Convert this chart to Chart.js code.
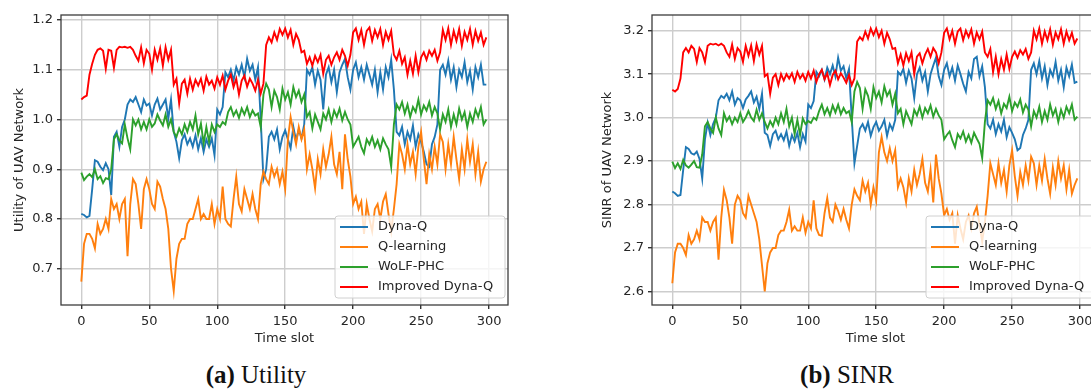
<!DOCTYPE html>
<html lang="en">
<head>
  <meta charset="UTF-8" />
  <title>Utility and SINR of UAV Network</title>
  <script src="https://cdn.jsdelivr.net/npm/chart.js"></script>
  <style>
    body { margin: 0; background: #fff; }
    #page { position: relative; width: 1091px; height: 390px; overflow: hidden; background: #fff; }
    canvas { position: absolute; top: 0; }
    #utility { left: 0; }
    #sinr { left: 590px; }
    .cap {
      position: absolute; top: 363px; line-height: 24px;
      font-family: "Liberation Serif", serif; font-size: 25px; color: #111;
      white-space: nowrap; transform: translateX(-50%);
    }
  </style>
</head>
<body>
<div id="page">
  <canvas id="utility" width="520" height="346"></canvas>
  <canvas id="sinr" width="521" height="346"></canvas>
  <div class="cap" style="left:256px"><b>(a)</b> Utility</div>
  <div class="cap" style="left:847px"><b>(b)</b> SINR</div>
</div>

<script>
  // one reading every second time slot
  const STEP = 2;
  const seriesNames = ["Dyna-Q", "Q-learning", "WoLF-PHC", "Improved Dyna-Q"];
  const seriesColors = ["#1f77b4", "#ff7f0e", "#2ca02c", "#ff0000"];
  const xTicks = [0, 50, 100, 150, 200, 250, 300];
  const utilityTicks = [0.7, 0.8, 0.9, 1.0, 1.1, 1.2];
  const sinrTicks = [2.6, 2.7, 2.8, 2.9, 3.0, 3.1, 3.2];

  // (a) Utility
  const utilDynaQ = [
    0.810, 0.808, 0.803, 0.806, 0.860, 0.918, 0.915, 0.905, 0.898, 0.912,
    0.900, 0.848, 0.965, 0.975, 0.945, 0.985, 1.000, 1.030, 1.040, 1.035,
    1.045, 1.030, 1.015, 1.040, 1.028, 1.032, 1.008, 1.030, 1.042, 1.020,
    1.030, 1.040, 1.002, 1.040, 0.975, 0.955, 0.922, 0.958, 0.970, 0.950,
    0.962, 0.945, 0.968, 0.940, 0.962, 0.935, 0.960, 0.945, 0.962, 0.928,
    1.020, 1.010, 1.025, 1.095, 1.085, 1.100, 1.078, 1.105, 1.090, 1.110,
    1.085, 1.122, 1.098, 1.110, 1.080, 1.105, 1.000, 0.880, 0.900, 0.965,
    0.975, 0.960, 0.980, 0.940, 0.965, 0.978, 0.960, 0.942, 0.985, 0.958,
    0.980, 0.962, 0.990, 1.100, 1.090, 1.105, 1.070, 1.098, 1.080, 1.020,
    1.090, 1.105, 1.075, 1.100, 1.055, 1.095, 1.110, 1.122, 1.085, 1.060,
    1.100, 1.115, 1.085, 1.105, 1.080, 1.110, 1.090, 1.070, 1.100, 1.055,
    1.095, 1.060, 1.105, 1.085, 1.120, 1.060, 0.975, 0.968, 0.985, 0.950,
    0.975, 0.960, 0.988, 0.945, 0.970, 0.955, 0.935, 0.910, 0.905, 0.950,
    0.965, 0.990, 1.100, 1.110, 1.090, 1.118, 1.080, 1.105, 1.065, 1.100,
    1.085, 1.115, 1.075, 1.098, 1.060, 1.105, 1.085, 1.110, 1.070, 1.070
  ];
  const utilQLearning = [
    0.674, 0.750, 0.770, 0.770, 0.760, 0.741, 0.790, 0.770, 0.780, 0.800,
    0.780, 0.840, 0.820, 0.830, 0.800, 0.830, 0.840, 0.725, 0.830, 0.880,
    0.870, 0.830, 0.780, 0.860, 0.880, 0.860, 0.830, 0.820, 0.875, 0.865,
    0.840, 0.820, 0.780, 0.700, 0.655, 0.720, 0.750, 0.760, 0.760, 0.790,
    0.800, 0.800, 0.820, 0.840, 0.800, 0.810, 0.800, 0.800, 0.830, 0.790,
    0.820, 0.800, 0.865, 0.800, 0.790, 0.785, 0.840, 0.885, 0.830, 0.815,
    0.860, 0.840, 0.820, 0.850, 0.820, 0.800, 0.870, 0.895, 0.880, 0.870,
    0.905, 0.885, 0.900, 0.870, 0.895, 0.860, 0.960, 1.005, 0.975, 0.950,
    0.985, 0.960, 0.980, 0.900, 0.930, 0.900, 0.862, 0.920, 0.890, 0.940,
    0.905, 0.930, 0.965, 0.910, 0.890, 0.935, 0.860, 0.970, 0.920, 0.885,
    0.830, 0.845, 0.820, 0.835, 0.770, 0.830, 0.800, 0.775, 0.820, 0.830,
    0.800, 0.835, 0.850, 0.810, 0.775, 0.820, 0.870, 0.950, 0.930, 0.900,
    0.950, 0.910, 0.935, 0.890, 0.945, 0.975, 0.920, 0.870, 0.930, 0.900,
    0.945, 0.910, 0.970, 0.955, 0.900, 0.950, 0.910, 0.965, 0.920, 0.880,
    0.940, 0.900, 0.960, 0.915, 0.950, 0.890, 0.935, 0.875, 0.900, 0.915
  ];
  const utilWolf = [
    0.893, 0.878, 0.885, 0.890, 0.884, 0.900, 0.880, 0.886, 0.872, 0.882,
    0.880, 0.900, 0.960, 0.970, 0.958, 0.952, 0.990, 0.962, 0.940, 1.000,
    0.988, 1.000, 0.980, 0.995, 0.980, 1.000, 0.985, 0.992, 1.010, 0.998,
    0.988, 1.010, 0.985, 1.000, 0.975, 0.965, 0.982, 0.970, 0.990, 0.975,
    0.995, 0.980, 1.008, 0.970, 0.992, 0.952, 0.985, 0.955, 0.990, 0.975,
    0.990, 0.985, 0.995, 0.990, 1.015, 1.025, 1.008, 1.018, 1.003, 1.022,
    1.010, 1.025, 1.005, 1.018, 1.008, 1.012, 0.985, 1.050, 1.072, 1.060,
    1.025, 1.058, 1.045, 1.020, 1.062, 1.040, 1.055, 1.030, 1.065, 1.045,
    1.058, 1.035, 1.050, 1.005, 1.015, 0.982, 1.010, 0.995, 0.980, 1.012,
    1.000, 1.020, 0.995, 1.018, 1.005, 1.022, 0.998, 1.015, 1.000, 0.990,
    0.945, 0.955, 0.965, 0.945, 0.932, 0.960, 0.950, 0.965, 0.945, 0.958,
    0.940, 0.962, 0.950, 0.940, 0.905, 0.990, 1.030, 1.020, 1.035, 1.012,
    1.030, 1.005, 1.025, 1.015, 1.040, 1.010, 1.028, 1.018, 1.035, 1.008,
    1.025, 1.012, 0.980, 1.010, 0.995, 1.020, 0.985, 1.010, 0.990, 1.022,
    1.000, 1.015, 0.985, 1.012, 0.995, 1.020, 1.005, 1.025, 0.990, 1.000
  ];
  const utilImproved = [
    1.040, 1.045, 1.048, 1.090, 1.112, 1.130, 1.140, 1.143, 1.138, 1.102,
    1.140, 1.138, 1.104, 1.140, 1.146, 1.145, 1.146, 1.144, 1.146, 1.140,
    1.128, 1.118, 1.145, 1.113, 1.140, 1.132, 1.100, 1.140, 1.120, 1.143,
    1.108, 1.145, 1.120, 1.140, 1.070, 1.082, 1.032, 1.072, 1.080, 1.052,
    1.082, 1.060, 1.080, 1.068, 1.082, 1.058, 1.086, 1.070, 1.078, 1.062,
    1.085, 1.070, 1.088, 1.060, 1.078, 1.090, 1.065, 1.082, 1.050, 1.078,
    1.088, 1.066, 1.082, 1.072, 1.058, 1.080, 1.052, 1.072, 1.150, 1.165,
    1.155, 1.175, 1.160, 1.182, 1.170, 1.183, 1.165, 1.180, 1.150, 1.172,
    1.160, 1.135, 1.138, 1.112, 1.125, 1.108, 1.128, 1.115, 1.130, 1.092,
    1.120, 1.128, 1.110, 1.125, 1.135, 1.120, 1.140, 1.128, 1.108, 1.130,
    1.175, 1.183, 1.160, 1.180, 1.150, 1.178, 1.185, 1.158, 1.180, 1.165,
    1.182, 1.150, 1.176, 1.160, 1.178, 1.130, 1.120, 1.138, 1.112, 1.125,
    1.090, 1.118, 1.092, 1.128, 1.095, 1.125, 1.135, 1.120, 1.138, 1.128,
    1.140, 1.118, 1.135, 1.180, 1.160, 1.183, 1.150, 1.178, 1.158, 1.182,
    1.148, 1.176, 1.160, 1.182, 1.150, 1.178, 1.158, 1.175, 1.150, 1.165
  ];

  // (b) SINR
  const sinrDynaQ = [
    2.830, 2.826, 2.820, 2.822, 2.880, 2.932, 2.928, 2.918, 2.915, 2.922,
    2.905, 2.860, 2.950, 2.988, 2.960, 2.985, 3.000, 3.040, 3.050, 3.045,
    3.055, 3.040, 3.060, 3.030, 3.045, 3.040, 3.022, 3.042, 3.050, 3.060,
    3.035, 3.048, 3.020, 3.055, 2.965, 2.960, 2.935, 2.962, 2.970, 2.950,
    2.962, 2.948, 2.968, 2.935, 2.960, 2.945, 2.965, 2.932, 2.962, 2.945,
    3.030, 3.022, 3.038, 3.105, 3.095, 3.110, 3.088, 3.115, 3.100, 3.120,
    3.095, 3.138, 3.108, 3.118, 3.090, 3.112, 3.000, 2.895, 2.935, 2.975,
    2.985, 2.970, 2.990, 2.958, 2.978, 2.990, 2.970, 2.980, 2.995, 2.958,
    2.985, 2.972, 2.995, 3.105, 3.098, 3.112, 3.080, 3.108, 3.090, 3.045,
    3.100, 3.115, 3.085, 3.105, 3.060, 3.100, 3.120, 3.138, 3.095, 3.075,
    3.110, 3.125, 3.095, 3.115, 3.085, 3.120, 3.100, 3.078, 3.060, 3.105,
    3.090, 3.135, 3.140, 3.095, 3.118, 3.070, 2.985, 2.975, 2.995, 2.962,
    2.985, 2.968, 2.995, 2.955, 2.978, 2.965, 2.950, 2.925, 2.930, 2.960,
    2.975, 2.995, 3.110, 3.125, 3.100, 3.130, 3.090, 3.118, 3.075, 3.110,
    3.095, 3.128, 3.085, 3.110, 3.070, 3.115, 3.095, 3.122, 3.080, 3.083
  ];
  const sinrQLearning = [
    2.619, 2.690, 2.710, 2.710, 2.700, 2.684, 2.730, 2.710, 2.720, 2.740,
    2.720, 2.770, 2.760, 2.760, 2.740, 2.760, 2.770, 2.673, 2.770, 2.834,
    2.810, 2.770, 2.710, 2.800, 2.820, 2.810, 2.780, 2.770, 2.820, 2.800,
    2.780, 2.760, 2.720, 2.660, 2.600, 2.665, 2.690, 2.700, 2.700, 2.730,
    2.740, 2.740, 2.760, 2.788, 2.740, 2.750, 2.740, 2.740, 2.770, 2.735,
    2.760, 2.745, 2.810, 2.745, 2.730, 2.728, 2.780, 2.815, 2.770, 2.760,
    2.800, 2.785, 2.765, 2.790, 2.765, 2.745, 2.800, 2.835, 2.820, 2.810,
    2.855, 2.830, 2.850, 2.800, 2.840, 2.810, 2.920, 2.956, 2.920, 2.900,
    2.930, 2.900, 2.925, 2.840, 2.860, 2.840, 2.805, 2.860, 2.830, 2.880,
    2.845, 2.870, 2.905, 2.850, 2.830, 2.880, 2.805, 2.915, 2.860, 2.825,
    2.775, 2.790, 2.765, 2.780, 2.710, 2.775, 2.745, 2.720, 2.760, 2.775,
    2.745, 2.780, 2.795, 2.755, 2.715, 2.760, 2.820, 2.895, 2.870, 2.845,
    2.895, 2.850, 2.880, 2.830, 2.890, 2.925, 2.865, 2.820, 2.875, 2.845,
    2.890, 2.855, 2.910, 2.895, 2.845, 2.890, 2.855, 2.905, 2.860, 2.825,
    2.885, 2.845, 2.900, 2.860, 2.890, 2.835, 2.880, 2.825, 2.845, 2.860
  ];
  const sinrWolf = [
    2.899, 2.884, 2.895, 2.882, 2.903, 2.890, 2.885, 2.892, 2.900, 2.886,
    2.885, 2.915, 2.980, 2.990, 2.975, 2.965, 3.000, 2.975, 2.960, 3.010,
    2.992, 3.002, 2.985, 3.000, 2.990, 3.010, 2.990, 3.000, 3.015, 3.000,
    2.992, 3.018, 2.995, 3.010, 2.990, 2.975, 2.992, 2.980, 3.000, 2.985,
    3.010, 2.990, 3.020, 2.980, 3.000, 2.962, 2.995, 2.960, 2.998, 2.985,
    2.992, 2.988, 3.000, 2.995, 3.015, 3.030, 3.008, 3.022, 3.005, 3.028,
    3.012, 3.030, 3.008, 3.022, 3.010, 3.015, 2.990, 3.060, 3.082, 3.068,
    3.020, 3.065, 3.050, 3.020, 3.070, 3.045, 3.060, 3.035, 3.072, 3.050,
    3.062, 3.030, 3.055, 3.010, 3.020, 2.985, 3.015, 3.000, 2.985, 3.018,
    3.005, 3.025, 3.000, 3.022, 3.010, 3.028, 3.002, 3.020, 3.005, 2.995,
    2.950, 2.960, 2.968, 2.948, 2.932, 2.962, 2.952, 2.968, 2.945, 2.960,
    2.942, 2.965, 2.952, 2.940, 2.907, 2.990, 3.040, 3.030, 3.045, 3.020,
    3.038, 3.010, 3.032, 3.022, 3.048, 3.015, 3.035, 3.025, 3.042, 3.012,
    3.030, 3.018, 2.980, 3.015, 3.000, 3.025, 2.990, 3.015, 2.995, 3.030,
    3.005, 3.020, 2.990, 3.018, 3.000, 3.025, 3.010, 3.030, 2.995, 3.002
  ];
  const sinrImproved = [
    3.064, 3.060, 3.066, 3.090, 3.150, 3.160, 3.150, 3.165, 3.158, 3.128,
    3.160, 3.150, 3.128, 3.165, 3.170, 3.168, 3.170, 3.166, 3.170, 3.165,
    3.150, 3.140, 3.168, 3.135, 3.160, 3.152, 3.128, 3.165, 3.142, 3.166,
    3.130, 3.168, 3.145, 3.165, 3.095, 3.100, 3.055, 3.092, 3.100, 3.075,
    3.100, 3.085, 3.100, 3.090, 3.102, 3.082, 3.105, 3.090, 3.100, 3.085,
    3.105, 3.090, 3.108, 3.082, 3.100, 3.110, 3.088, 3.102, 3.075, 3.098,
    3.108, 3.088, 3.102, 3.092, 3.080, 3.098, 3.075, 3.090, 3.175, 3.185,
    3.178, 3.198, 3.182, 3.205, 3.190, 3.205, 3.185, 3.200, 3.170, 3.195,
    3.180, 3.158, 3.160, 3.125, 3.145, 3.120, 3.148, 3.130, 3.150, 3.100,
    3.140, 3.148, 3.125, 3.145, 3.158, 3.140, 3.160, 3.150, 3.125, 3.150,
    3.195, 3.205, 3.180, 3.200, 3.170, 3.198, 3.205, 3.178, 3.200, 3.185,
    3.203, 3.170, 3.196, 3.180, 3.198, 3.150, 3.140, 3.158, 3.105, 3.140,
    3.100, 3.135, 3.110, 3.145, 3.112, 3.140, 3.152, 3.138, 3.155, 3.145,
    3.158, 3.135, 3.150, 3.200, 3.180, 3.205, 3.170, 3.198, 3.178, 3.203,
    3.168, 3.196, 3.180, 3.203, 3.170, 3.198, 3.178, 3.195, 3.170, 3.182
  ];

  Chart.defaults.font.family = "'DejaVu Sans', sans-serif";
  Chart.defaults.font.size = 13;
  Chart.defaults.color = "#262626";

  // axes box on all four sides, like matplotlib spines
  const frame = {
    id: "frame",
    afterDatasetsDraw(chart) {
      const { ctx, chartArea: a } = chart;
      ctx.save();
      ctx.strokeStyle = "#3c3c3c";
      ctx.lineWidth = 1.3;
      ctx.strokeRect(a.left, a.top, a.right - a.left, a.bottom - a.top);
      ctx.restore();
    }
  };

  // legend box in the lower right corner of the plot
  const boxLegend = {
    id: "boxLegend",
    afterDraw(chart) {
      const { ctx, chartArea: a } = chart;
      const w = 170, h = 82;
      const x0 = a.right - 3 - w, y0 = a.bottom - 7 - h;
      ctx.save();
      ctx.beginPath();
      ctx.roundRect(x0, y0, w, h, 3);
      ctx.fillStyle = "rgba(255,255,255,0.8)";
      ctx.fill();
      ctx.strokeStyle = "#d0d0d0";
      ctx.lineWidth = 1;
      ctx.stroke();
      ctx.font = "13px 'DejaVu Sans'";
      ctx.textBaseline = "middle";
      seriesNames.forEach((name, i) => {
        const y = y0 + 11 + i * 20;
        ctx.strokeStyle = seriesColors[i];
        ctx.lineWidth = 2;
        ctx.beginPath();
        ctx.moveTo(x0 + 5, y);
        ctx.lineTo(x0 + 33, y);
        ctx.stroke();
        ctx.fillStyle = "#262626";
        ctx.fillText(name, x0 + 43, y);
      });
      ctx.restore();
    }
  };

  function makeChart(id, series, yTicks, yMin, yMax, yTitle, yWidth, titlePad) {
    const datasets = series.map((vals, i) => ({
      label: seriesNames[i],
      data: vals.map((v, k) => ({ x: k * STEP, y: v })),
      borderColor: seriesColors[i],
      borderWidth: 1.9,
      pointRadius: 0,
      tension: 0,
      order: series.length - i
    }));
    const grid = { color: "#cdcdcd", lineWidth: 1.4, drawTicks: true, tickLength: 4, tickColor: "#333" };

    return new Chart(document.getElementById(id), {
      type: "line",
      data: { datasets },
      options: {
        responsive: false,
        animation: false,
        devicePixelRatio: 1,
        layout: { padding: { top: 15, right: 12, bottom: 0, left: 0 } },
        plugins: { legend: { display: false }, tooltip: { enabled: false } },
        scales: {
          x: {
            type: "linear", min: -14.95, max: 313.95,
            afterBuildTicks: s => { s.ticks = xTicks.map(v => ({ value: v })); },
            afterFit: s => { s.height = 41; },
            grid, border: { display: false },
            ticks: { padding: 5, autoSkip: false, maxRotation: 0, callback: v => String(v) },
            title: { display: true, text: "Time slot", padding: 0 }
          },
          y: {
            type: "linear", min: yMin, max: yMax,
            afterBuildTicks: s => { s.ticks = yTicks.map(v => ({ value: v })); },
            afterFit: s => { s.width = yWidth; },
            grid, border: { display: false },
            ticks: { padding: 4, autoSkip: false, callback: v => v.toFixed(1) },
            title: { display: true, text: yTitle, padding: { top: titlePad, bottom: 0 } }
          }
        }
      },
      plugins: [frame, boxLegend]
    });
  }

  makeChart("utility", [utilDynaQ, utilQLearning, utilWolf, utilImproved],
    utilityTicks, 0.627, 1.21, "Utility of UAV Network", 61, 12);
  makeChart("sinr", [sinrDynaQ, sinrQLearning, sinrWolf, sinrImproved],
    sinrTicks, 2.569, 3.236, "SINR of UAV Network", 62, 10);
</script>
</body>
</html>
